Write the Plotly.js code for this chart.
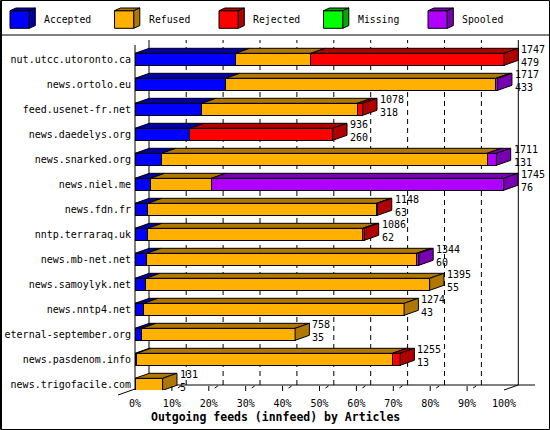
<!DOCTYPE html>
<html>
<head>
<meta charset="utf-8">
<script src="https://cdn.plot.ly/plotly-3.0.1.min.js"></script>
<style>html,body{margin:0;padding:0;background:#fff;}#chart{width:550px;height:430px;}</style>
</head>
<body>
<div id="chart"></div>
<script>
// ---- data ----
const categories = ["nut.utcc.utoronto.ca","news.ortolo.eu","feed.usenet-fr.net","news.daedelys.org","news.snarked.org","news.niel.me","news.fdn.fr","nntp.terraraq.uk","news.mb-net.net","news.samoylyk.net","news.nntp4.net","eternal-september.org","news.pasdenom.info","news.trigofacile.com"];
const accepted = [476, 429, 316, 259, 126, 73, 60, 60, 55, 51, 41, 32, 8, 0];
const refused  = [357, 1280, 737, 0, 1541, 289, 1084, 1018, 1278, 1344, 1233, 726, 1211, 131];
const rejected = [914, 0, 25, 677, 0, 0, 4, 8, 0, 0, 0, 0, 36, 0];
const missing  = [0, 0, 0, 0, 0, 0, 0, 0, 0, 0, 0, 0, 0, 0];
const spooled  = [0, 8, 0, 0, 44, 1383, 0, 0, 11, 0, 0, 0, 0, 0];
const secondValues = [479, 433, 318, 260, 131, 76, 63, 62, 60, 55, 43, 35, 13, 5];
const seriesNames = ["Accepted","Refused","Rejected","Missing","Spooled"];
const xTickValues = [0,10,20,30,40,50,60,70,80,90,100];
const xTitle = "Outgoing feeds (innfeed) by Articles";

// ---- styles ----
const frontColors = ["#0000ff","#ffb000","#ff0000","#00ff00","#b000ff"];
const darkColors  = ["#0000a8","#b07800","#b00000","#00a800","#7800b0"];
const FONT = "DejaVu Sans Mono";
const BH = 0.48;       // bar front height (rows)
const DX = 14.3/369*100; // depth in x units
const DY = 0.2;        // depth in y units
const L = 135, T = 40, PW = 384, PH = 350;
const PX = p => (p - L) / PW;
const PY = p => (T + PH - p) / PH;

const series = [accepted, refused, rejected, missing, spooled];
const idx = categories.map((_, i) => i);
const totals = idx.map(i => series.reduce((s, a) => s + a[i], 0));
const maxTotal = Math.max(...totals);
const pct = v => v / maxTotal * 100;

const traces = [];
series.forEach((arr, k) => {
  traces.push({type:"bar", orientation:"h", name:seriesNames[k],
    x: arr.map(v => v > 0 ? pct(v) : null), y: idx, width: BH,
    marker:{color:frontColors[k], line:{color:"#000", width:1}},
    hoverinfo:"skip", showlegend:false});
});

// 3D top and side faces
const topX = series.map(() => []), topY = series.map(() => []);
const sideX = series.map(() => []), sideY = series.map(() => []);
idx.forEach(i => {
  let c = 0, last = -1;
  const top = i - BH/2, bot = i + BH/2;
  series.forEach((arr, k) => {
    const v = arr[i];
    if (v > 0) {
      const x0 = pct(c), x1 = pct(c + v);
      topX[k].push(x0, x1, x1 + DX, x0 + DX, x0, null);
      topY[k].push(top, top, top - DY, top - DY, top, null);
      c += v; last = k;
    }
  });
  if (last >= 0) {
    const x1 = pct(totals[i]);
    sideX[last].push(x1, x1 + DX, x1 + DX, x1, x1, null);
    sideY[last].push(top, top - DY, bot - DY, bot, top, null);
  }
});
series.forEach((arr, k) => {
  [[topX[k], topY[k]], [sideX[k], sideY[k]]].forEach(([xs, ys]) => {
    if (xs.length) traces.push({type:"scatter", mode:"lines", x:xs, y:ys, fill:"toself",
      fillcolor:darkColors[k], line:{color:"#000", width:1}, hoverinfo:"skip", showlegend:false});
  });
});

// ---- shapes ----
const shapes = [];
const line = (x0,y0,x1,y1,extra) => Object.assign({type:"line", xref:"paper", yref:"paper",
  x0:PX(x0), y0:PY(y0), x1:PX(x1), y1:PY(y1), line:{color:"#000", width:1}}, extra||{});
const fx = p => L + p * 3.69;
xTickValues.forEach(p => {
  if (p > 0 && p < 100) {
    shapes.push(line(fx(p)+14.3, 385, fx(p)+14.3, 40, {layer:"below", line:{color:"#000", width:1, dash:"5px,4px"}}));
    shapes.push(line(fx(p), 386, fx(p), 391));
    shapes.push(line(fx(p)+6, 388, fx(p)+9, 386));
  }
});
shapes.push(line(149, 385, 149, 40, {layer:"below"}));
shapes.push(line(fx(100)+14.3, 385, fx(100)+14.3, 40, {layer:"below"}));
shapes.push(line(149, 385, 535, 385, {layer:"below"}));
shapes.push(line(fx(100), 390, fx(100)+14.3, 385));
shapes.push(line(118, 395, 135, 389));
shapes.push(line(135, 45, 135, 390));
// legend row divider + border
shapes.push(line(0, 35, 550, 35));
shapes.push({type:"rect", xref:"paper", yref:"paper", x0:PX(0.5), x1:PX(549.5), y0:PY(0.5), y1:PY(429.5), line:{color:"#000", width:1}});
shapes.push({type:"line", xref:"paper", yref:"paper", x0:PX(1.5), x1:PX(1.5), y0:PY(0), y1:PY(430), line:{color:"#000", width:1}});

const path = pts => "M " + pts.map(([a,b]) => PX(a) + "," + PY(b)).join(" L ") + " Z";
const annotations = [];
seriesNames.forEach((nm, k) => {
  const X = 10 + 104.5 * k;
  shapes.push({type:"path", xref:"paper", yref:"paper", path:path([[X,10.7],[X+19.3,10.7],[X+19.3,28.3],[X,28.3]]), fillcolor:frontColors[k], line:{color:"#000", width:1}});
  shapes.push({type:"path", xref:"paper", yref:"paper", path:path([[X,10.7],[X+19.3,10.7],[X+25.3,8],[X+6,8]]), fillcolor:darkColors[k], line:{color:"#000", width:1}});
  shapes.push({type:"path", xref:"paper", yref:"paper", path:path([[X+19.3,10.7],[X+25.3,8],[X+25.3,25.6],[X+19.3,28.3]]), fillcolor:darkColors[k], line:{color:"#000", width:1}});
  annotations.push({xref:"paper", yref:"paper", x:PX(X+32), y:PY(20), xanchor:"left", yanchor:"middle", text:nm, showarrow:false, font:{family:FONT, size:9.8, color:"#000"}});
});

// value labels (two lines in one text)
idx.forEach(i => {
  const x = pct(totals[i]) + DX;
  annotations.push({xref:"x", yref:"y", x:x, y:i - 0.15, xanchor:"left", yanchor:"middle", xshift:2, align:"left", borderpad:0,
    text:String(totals[i]) + "<br>" + String(secondValues[i]), showarrow:false, font:{family:FONT, size:10, color:"#000"}});
});
annotations.push({xref:"paper", yref:"paper", x:PX(275), y:PY(416.7), xanchor:"center", yanchor:"middle", text:"<b>" + xTitle + "</b>", showarrow:false, font:{family:FONT, size:11.5, color:"#000"}});

const layout = {
  width:550, height:430, margin:{l:L, r:550-L-PW, t:T, b:430-T-PH, pad:0},
  paper_bgcolor:"#fff", plot_bgcolor:"#fff", barmode:"stack", showlegend:false,
  font:{family:FONT, color:"#000"},
  xaxis:{range:[0, PW/369*100], tickvals:xTickValues, ticktext:xTickValues.map(v => v + "%"),
    showgrid:false, zeroline:false, showline:false, ticks:"", ticklabelstandoff:6, tickfont:{family:FONT, size:10, color:"#000"}, fixedrange:true},
  yaxis:{range:[(T+PH-59.3)/25, (T-59.3)/25], tickvals:idx, ticktext:categories,
    showgrid:false, zeroline:false, showline:false, ticks:"", ticklabelstandoff:3, tickfont:{family:FONT, size:10, color:"#000"}, fixedrange:true},
  shapes:shapes, annotations:annotations
};
Plotly.newPlot("chart", traces, layout, {staticPlot:true, displayModeBar:false});
</script>
</body>
</html>
